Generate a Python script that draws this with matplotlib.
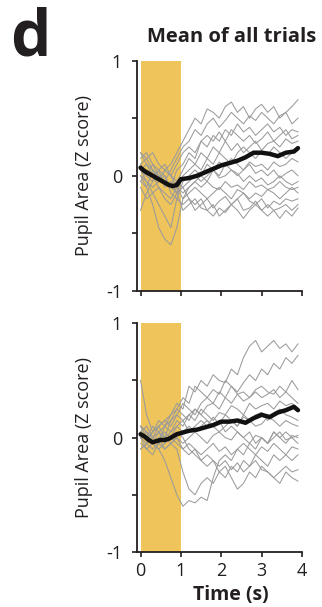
import numpy as np
import matplotlib
matplotlib.use("Agg")
import matplotlib.pyplot as plt

plt.rcParams['font.family'] = ['Open Sans', 'DejaVu Sans']

# time base for the single-session traces (s)
t_trace = [0, 0.15, 0.3, 0.45, 0.6, 0.75, 0.9, 1.05, 1.2, 1.35, 1.5, 1.65, 1.8, 1.95,
           2.1, 2.25, 2.4, 2.55, 2.7, 2.85, 3.0, 3.15, 3.3, 3.45, 3.6, 3.75, 3.9]
# time base for the mean trace (s)
t_mean = [0, 0.1, 0.2, 0.3, 0.4, 0.5, 0.6, 0.7, 0.8, 0.9, 1.0, 1.2, 1.4, 1.6, 1.8,
          2.0, 2.2, 2.4, 2.6, 2.8, 3.0, 3.2, 3.4, 3.6, 3.8, 3.9]

# --- top panel: gray traces (Z score) ---
top_traces = [
    [0.05, 0.1, 0.0, -0.05, 0.05, 0.1, 0.2, 0.3, 0.4, 0.5, 0.45, 0.58, 0.55, 0.5, 0.6, 0.64, 0.55, 0.6, 0.5, 0.58, 0.62, 0.55, 0.6, 0.5, 0.55, 0.6, 0.66],
    [0.1, 0.15, 0.05, 0.0, -0.05, 0.05, 0.15, 0.25, 0.3, 0.4, 0.35, 0.45, 0.5, 0.42, 0.48, 0.55, 0.5, 0.45, 0.52, 0.48, 0.55, 0.5, 0.45, 0.52, 0.55, 0.45, 0.5],
    [0.2, 0.1, 0.05, -0.05, 0.0, -0.1, 0.05, 0.1, 0.2, 0.15, 0.3, 0.25, 0.35, 0.3, 0.4, 0.35, 0.45, 0.38, 0.42, 0.35, 0.4, 0.45, 0.38, 0.42, 0.35, 0.4, 0.38],
    [0.0, -0.05, -0.1, -0.05, 0.05, 0.0, -0.05, 0.05, 0.15, 0.1, 0.2, 0.15, 0.25, 0.2, 0.3, 0.22, 0.28, 0.2, 0.25, 0.3, 0.22, 0.28, 0.3, 0.25, 0.32, 0.28, 0.3],
    [0.05, 0.0, 0.1, 0.05, -0.1, -0.05, -0.15, 0.0, 0.05, 0.1, 0.05, 0.15, 0.1, 0.2, 0.15, 0.1, 0.2, 0.25, 0.2, 0.15, 0.22, 0.18, 0.25, 0.2, 0.15, 0.2, 0.22],
    [-0.1, -0.2, -0.15, -0.25, -0.35, -0.45, -0.2, -0.05, 0.0, 0.05, 0.0, 0.1, 0.05, 0.12, 0.08, 0.15, 0.1, 0.05, 0.12, 0.08, 0.1, 0.05, 0.12, 0.08, 0.1, 0.15, 0.12],
    [0.0, -0.1, -0.25, -0.45, -0.55, -0.6, -0.45, -0.2, -0.1, -0.05, 0.0, -0.05, 0.05, 0.0, 0.1, 0.05, 0.0, 0.05, 0.1, 0.02, 0.05, 0.0, 0.05, -0.02, 0.02, 0.05, 0.0],
    [0.15, 0.2, 0.1, 0.0, -0.05, -0.1, -0.05, -0.1, -0.05, 0.0, -0.05, 0.0, 0.05, -0.02, 0.0, 0.05, 0.02, -0.05, 0.0, -0.05, -0.02, -0.08, -0.05, 0.0, -0.05, -0.08, -0.05],
    [-0.05, 0.05, 0.0, -0.1, -0.15, -0.2, -0.1, -0.15, -0.1, -0.05, -0.1, -0.05, -0.1, -0.12, -0.05, -0.1, -0.08, -0.12, -0.05, -0.1, -0.08, -0.12, -0.1, -0.05, -0.1, -0.12, -0.1],
    [-0.3, -0.15, -0.05, 0.05, 0.1, 0.0, -0.1, -0.2, -0.15, -0.1, -0.15, -0.2, -0.15, -0.1, -0.15, -0.2, -0.12, -0.15, -0.2, -0.15, -0.18, -0.12, -0.15, -0.2, -0.15, -0.1, -0.15],
    [0.1, 0.0, -0.05, 0.05, 0.0, -0.15, -0.2, -0.25, -0.2, -0.3, -0.25, -0.2, -0.28, -0.22, -0.18, -0.25, -0.2, -0.15, -0.22, -0.25, -0.2, -0.28, -0.22, -0.25, -0.2, -0.22, -0.2],
    [-0.05, -0.1, 0.05, 0.0, -0.05, -0.1, -0.15, -0.3, -0.25, -0.2, -0.28, -0.3, -0.25, -0.35, -0.3, -0.25, -0.2, -0.3, -0.28, -0.22, -0.3, -0.25, -0.3, -0.28, -0.25, -0.3, -0.25],
    [0.05, -0.05, -0.15, -0.1, -0.2, -0.25, -0.15, -0.1, -0.2, -0.25, -0.2, -0.3, -0.35, -0.28, -0.32, -0.25, -0.3, -0.37, -0.3, -0.25, -0.3, -0.35, -0.3, -0.37, -0.3, -0.35, -0.28],
    [0.2, 0.15, 0.2, 0.1, 0.05, 0.0, 0.1, 0.2, 0.25, 0.2, 0.3, 0.35, 0.3, 0.38, 0.3, 0.4, 0.35, 0.3, 0.35, 0.28, 0.32, 0.38, 0.3, 0.35, 0.4, 0.32, 0.35],
]
top_mean = [0.07, 0.04, 0.02, 0.0, -0.02, -0.04, -0.06, -0.08, -0.09, -0.08, -0.03, -0.02, 0.0,
            0.03, 0.06, 0.09, 0.11, 0.13, 0.16, 0.2, 0.2, 0.19, 0.17, 0.2, 0.21, 0.24]

# --- bottom panel ---
bot_traces = [
    [0.1, 0.05, 0.0, 0.1, 0.15, 0.2, 0.3, 0.25, 0.45, 0.4, 0.5, 0.45, 0.55, 0.5, 0.48, 0.6, 0.55, 0.7, 0.8, 0.85, 0.75, 0.8, 0.85, 0.78, 0.82, 0.75, 0.82],
    [0.05, 0.0, -0.05, 0.05, 0.1, 0.15, 0.25, 0.35, 0.3, 0.45, 0.4, 0.35, 0.42, 0.38, 0.5, 0.45, 0.4, 0.48, 0.55, 0.5, 0.6, 0.55, 0.65, 0.6, 0.7, 0.65, 0.72],
    [0.5, 0.2, 0.05, 0.1, 0.0, 0.15, 0.2, 0.3, 0.25, 0.2, 0.3, 0.35, 0.3, 0.4, 0.35, 0.45, 0.38, 0.4, 0.35, 0.42, 0.45, 0.4, 0.38, 0.45, 0.4, 0.5, 0.42],
    [0.0, -0.1, -0.05, 0.0, 0.05, 0.0, 0.1, 0.15, 0.2, 0.25, 0.2, 0.28, 0.3, 0.25, 0.35, 0.3, 0.38, 0.32, 0.35, 0.4, 0.35, 0.38, 0.42, 0.35, 0.4, 0.35, 0.3],
    [0.05, 0.1, 0.0, -0.05, 0.1, 0.05, 0.15, 0.1, 0.2, 0.15, 0.25, 0.2, 0.15, 0.22, 0.2, 0.28, 0.25, 0.2, 0.3, 0.25, 0.28, 0.3, 0.25, 0.32, 0.28, 0.3, 0.25],
    [-0.1, -0.05, 0.05, 0.1, 0.15, 0.1, 0.2, 0.15, 0.05, 0.1, 0.15, 0.1, 0.18, 0.12, 0.2, 0.15, 0.1, 0.18, 0.15, 0.2, 0.22, 0.15, 0.2, 0.25, 0.2, 0.18, 0.15],
    [0.05, 0.0, -0.05, -0.1, -0.2, -0.35, -0.5, -0.6, -0.55, -0.57, -0.52, -0.55, -0.35, -0.2, -0.15, -0.2, -0.1, -0.15, -0.05, -0.1, 0.0, -0.05, 0.05, 0.0, 0.05, 0.0, 0.02],
    [0.0, -0.05, -0.1, -0.05, -0.1, -0.05, 0.0, -0.05, 0.0, 0.05, 0.0, -0.05, 0.02, 0.05, 0.0, -0.02, 0.05, 0.0, -0.05, 0.02, 0.0, -0.05, 0.0, 0.05, -0.02, 0.0, -0.05],
    [0.1, 0.05, -0.05, -0.1, -0.05, 0.0, -0.05, -0.1, -0.05, -0.1, -0.15, -0.1, -0.05, -0.12, -0.08, -0.15, -0.1, -0.05, -0.1, -0.15, -0.08, -0.12, -0.05, -0.1, -0.15, -0.08, -0.1],
    [-0.05, -0.1, -0.15, -0.05, 0.0, -0.05, -0.1, -0.3, -0.45, -0.5, -0.4, -0.35, -0.4, -0.3, -0.35, -0.25, -0.3, -0.2, -0.25, -0.15, -0.2, -0.25, -0.15, -0.2, -0.15, -0.2, -0.15],
    [0.05, 0.0, 0.1, 0.05, -0.05, 0.0, 0.05, 0.0, -0.1, -0.15, -0.2, -0.25, -0.2, -0.3, -0.25, -0.35, -0.45, -0.4, -0.3, -0.35, -0.25, -0.3, -0.35, -0.3, -0.25, -0.3, -0.28],
    [0.0, 0.05, -0.05, 0.0, -0.1, -0.05, 0.0, -0.1, -0.15, -0.1, -0.2, -0.15, -0.2, -0.25, -0.2, -0.28, -0.22, -0.3, -0.25, -0.2, -0.28, -0.3, -0.35, -0.4, -0.3, -0.35, -0.38],
    [0.1, 0.0, 0.05, 0.15, 0.1, 0.2, 0.25, 0.2, 0.15, 0.25, 0.2, 0.15, 0.1, 0.15, 0.05, 0.1, 0.05, 0.0, 0.05, -0.05, 0.0, -0.05, 0.05, 0.0, -0.05, 0.02, 0.0],
    [-0.1, -0.05, 0.0, 0.05, 0.0, 0.05, 0.1, 0.05, 0.1, 0.05, 0.1, 0.15, 0.1, 0.05, 0.1, 0.15, 0.1, 0.2, 0.15, 0.1, 0.12, 0.18, 0.15, 0.1, 0.15, 0.12, 0.1],
]
bot_mean = [0.03, 0.01, -0.02, -0.04, -0.03, -0.02, -0.02, -0.01, 0.01, 0.03, 0.04, 0.06, 0.07,
            0.09, 0.11, 0.14, 0.14, 0.15, 0.13, 0.17, 0.2, 0.18, 0.22, 0.24, 0.27, 0.24]

stim_window = (0, 1)   # shaded stimulus period (s)
xticks = [0, 1, 2, 3, 4]
yticks = [-1, -0.5, 0, 0.5, 1]
yticklabels = ['-1', '', '0', '', '1']

INK = '#231f20'
GRAY = '#9b9b9b'
YELLOW = '#eec45b'

fig = plt.figure(figsize=(3.22, 6.07), dpi=100)


def panel(rect, traces, mean, show_xlabels):
    ax = fig.add_axes(rect)
    ax.axvspan(*stim_window, color=YELLOW, lw=0, zorder=0)
    for tr in traces:
        ax.plot(t_trace, tr, color=GRAY, lw=0.75, zorder=1)
    ax.plot(t_mean, mean, color='#111111', lw=3.2, zorder=3, solid_capstyle='round')
    ax.set_xlim(-0.1, 4)
    ax.set_ylim(-1, 1)
    for s in ['top', 'right']:
        ax.spines[s].set_visible(False)
    for s in ['left', 'bottom']:
        ax.spines[s].set_linewidth(1.3)
        ax.spines[s].set_color(INK)
    ax.set_yticks(yticks)
    ax.set_yticklabels(yticklabels)
    ax.set_xticks(xticks)
    ax.tick_params(axis='both', length=3.5, width=1.2, color=INK, labelsize=13,
                   labelcolor=INK)
    ax.tick_params(axis='y', pad=7)
    ax.tick_params(axis='x', pad=4)
    if not show_xlabels:
        ax.set_xticklabels([])
    ax.set_ylabel('Pupil Area (Z score)', fontsize=13, color=INK)
    ax.yaxis.set_label_coords(-0.26, 0.5)
    return ax


ax1 = panel([136.5 / 322, 1 - 291 / 607, 165.5 / 322, 230.5 / 607], top_traces, top_mean, False)
ax2 = panel([136.5 / 322, 1 - 552 / 607, 165.5 / 322, 228.7 / 607], bot_traces, bot_mean, True)
ax2.set_xlabel('Time (s)', fontsize=14, fontweight='bold', color=INK)
ax2.xaxis.set_label_coords(0.57, -0.145)

fig.text(10 / 322, 1 - 55 / 607, 'd', fontsize=46, fontweight='bold', color=INK,
         ha='left', va='baseline')
fig.text(232 / 322, 1 - 42 / 607, 'Mean of all trials', fontsize=14.5, fontweight='bold',
         color=INK, ha='center', va='baseline')

fig.savefig('out.png', dpi=100)
